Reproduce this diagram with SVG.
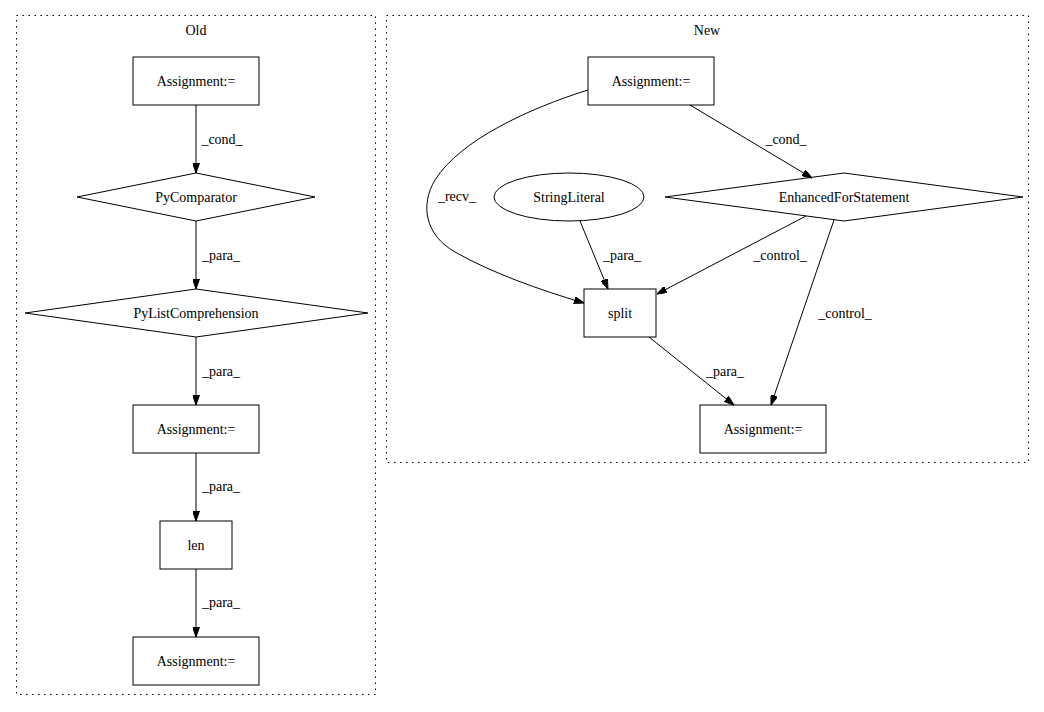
<svg xmlns="http://www.w3.org/2000/svg" width="1044" height="712" viewBox="0 0 1044 712">
<defs>
<marker id="arr" markerUnits="userSpaceOnUse" markerWidth="10" markerHeight="7" refX="10" refY="3.5" orient="auto">
<path d="M0,0 L10,3.5 L0,7 z" fill="#000" stroke="#000"/>
</marker>
<style>
text{font-family:"Liberation Serif","Times New Roman",serif;font-size:14px;fill:#000}
.n{text-anchor:middle}
.shape{fill:none;stroke:#000;stroke-width:1}
.edge{fill:none;stroke:#000;stroke-width:1;marker-end:url(#arr)}
.cluster{fill:none;stroke:#000;stroke-width:1;stroke-dasharray:1.5,4.5}
</style>
</defs>
<rect width="1044" height="712" fill="#fff"/>
<g id="cluster_old">
<rect class="cluster" x="16.5" y="15.5" width="359" height="679"/>
<text class="n" x="196" y="35">Old</text>
</g>
<g id="cluster_new">
<rect class="cluster" x="386.5" y="15.5" width="642" height="447"/>
<text class="n" x="707" y="35">New</text>
</g>
<g id="connectors">
<line class="edge" x1="196" y1="105" x2="196" y2="173"/>
<text x="222" y="143.5" class="n">_cond_</text>
<line class="edge" x1="196" y1="221" x2="196" y2="289"/>
<text x="221" y="260" class="n">_para_</text>
<line class="edge" x1="196" y1="337" x2="196" y2="405"/>
<text x="221" y="376" class="n">_para_</text>
<line class="edge" x1="196" y1="453" x2="196" y2="521"/>
<text x="221" y="491" class="n">_para_</text>
<line class="edge" x1="196" y1="569" x2="196" y2="637"/>
<text x="221" y="607" class="n">_para_</text>
<path class="edge" d="M588,90 C530,108 460,140 435,180 C420,205 425,235 455,252 C492,273 540,290 584,303"/>
<text x="457" y="201" class="n">_recv_</text>
<line class="edge" x1="690" y1="105" x2="812" y2="178"/>
<text x="786" y="143.5" class="n">_cond_</text>
<line class="edge" x1="580" y1="221" x2="608" y2="289"/>
<text x="622" y="260" class="n">_para_</text>
<line class="edge" x1="806" y1="216" x2="657" y2="294"/>
<text x="780" y="260" class="n">_control_</text>
<line class="edge" x1="834" y1="220" x2="771" y2="405"/>
<text x="845" y="318" class="n">_control_</text>
<line class="edge" x1="649" y1="337" x2="734" y2="405"/>
<text x="725" y="376" class="n">_para_</text>
</g>
<g id="old_assign1">
<rect class="shape" x="133" y="57" width="126" height="48"/>
<text class="n" x="196" y="85.5">Assignment:=</text>
</g>
<g id="old_pycomparator">
<polygon class="shape" points="196,173 315,197 196,221 77,197"/>
<text class="n" x="196" y="201.5">PyComparator</text>
</g>
<g id="old_pylistcomp">
<polygon class="shape" points="196,289 368,313 196,337 25,313"/>
<text class="n" x="196" y="317.5">PyListComprehension</text>
</g>
<g id="old_assign2">
<rect class="shape" x="133" y="405" width="126" height="48"/>
<text class="n" x="196" y="433.5">Assignment:=</text>
</g>
<g id="old_len">
<rect class="shape" x="160" y="521" width="72" height="48"/>
<text class="n" x="196" y="549.5">len</text>
</g>
<g id="old_assign3">
<rect class="shape" x="133" y="637" width="126" height="48"/>
<text class="n" x="196" y="665.5">Assignment:=</text>
</g>
<g id="new_assign1">
<rect class="shape" x="588" y="57" width="126" height="48"/>
<text class="n" x="651" y="85.5">Assignment:=</text>
</g>
<g id="new_stringliteral">
<ellipse class="shape" cx="569" cy="197" rx="75" ry="24"/>
<text class="n" x="569" y="201.5">StringLiteral</text>
</g>
<g id="new_efs">
<polygon class="shape" points="844,173 1023,197 844,221 665,197"/>
<text class="n" x="844" y="201.5">EnhancedForStatement</text>
</g>
<g id="new_split">
<rect class="shape" x="584" y="289" width="72" height="48"/>
<text class="n" x="620" y="317.5">split</text>
</g>
<g id="new_assign2">
<rect class="shape" x="700" y="405" width="126" height="48"/>
<text class="n" x="763" y="433.5">Assignment:=</text>
</g>
</svg>
